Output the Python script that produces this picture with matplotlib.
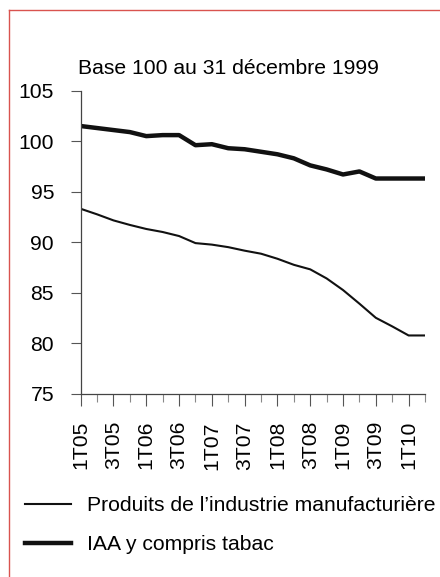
import matplotlib
matplotlib.use("Agg")
import matplotlib.pyplot as plt
from matplotlib.lines import Line2D
from matplotlib.ticker import MultipleLocator, FixedLocator

plt.rcParams['font.family'] = ['Liberation Sans', 'DejaVu Sans']

quarters = ["1T05", "2T05", "3T05", "4T05", "1T06", "2T06", "3T06", "4T06",
            "1T07", "2T07", "3T07", "4T07", "1T08", "2T08", "3T08", "4T08",
            "1T09", "2T09", "3T09", "4T09", "1T10", "2T10"]
manuf = [93.3, 92.75, 92.15, 91.7, 91.3, 91.0, 90.6, 89.9, 89.75, 89.5, 89.15,
         88.85, 88.35, 87.75, 87.3, 86.4, 85.25, 83.9, 82.5, 81.65, 80.75, 80.75]
iaa = [101.5, 101.3, 101.1, 100.9, 100.5, 100.6, 100.6, 99.6, 99.7, 99.3, 99.2,
       98.95, 98.7, 98.3, 97.6, 97.2, 96.7, 97.0, 96.3, 96.3, 96.3, 96.3]
series_names = ["Produits de l\u2019industrie manufacturi\u00e8re", "IAA y compris tabac"]
title = "Base 100 au 31 d\u00e9cembre 1999"

W, H = 440, 577
FS = 15.2
fig = plt.figure(figsize=(W / 100, H / 100), dpi=100)
fig.patch.set_facecolor("white")

# red frame (only left and top edges visible in the image)
red = "#d9534f"
fig.add_artist(Line2D([8.5 / W, 8.5 / W], [0, 1 - 9.5 / H], transform=fig.transFigure,
                      color=red, linewidth=1.0))
fig.add_artist(Line2D([8.5 / W, 1], [1 - 9.5 / H, 1 - 9.5 / H], transform=fig.transFigure,
                      color=red, linewidth=1.0))

ax = fig.add_axes([80.7 / W, 1 - 393.5 / H, (425 - 80.7) / W, (393.5 - 90.7) / H])
x = list(range(len(quarters)))
l1, = ax.plot(x, manuf, color="#111111", linewidth=1.5, solid_joinstyle="round")
l2, = ax.plot(x, iaa, color="#111111", linewidth=3.2, solid_joinstyle="round")

ax.set_xlim(0, len(quarters) - 1)
ax.set_ylim(75, 105)
ax.yaxis.set_major_locator(MultipleLocator(5))
ax.xaxis.set_major_locator(FixedLocator(x[::2]))
ax.xaxis.set_minor_locator(FixedLocator(x[1::2]))
ax.set_xticklabels(quarters[::2], rotation=90, fontsize=FS)
ax.tick_params(axis="y", labelsize=FS, length=7.2, width=0.8, color="#555555", pad=12)
ax.tick_params(axis="x", which="major", length=8.3, width=0.8, color="#555555", pad=11.5)
ax.tick_params(axis="x", which="minor", length=6, width=0.8, color="#888888")
for s in ["top", "right"]:
    ax.spines[s].set_visible(False)
for s in ["left", "bottom"]:
    ax.spines[s].set_color("#444444")
    ax.spines[s].set_linewidth(0.9)

fig.text(78 / W, 1 - 74 / H, title, fontsize=FS, va="baseline", ha="left")

fig.legend([l1, l2], series_names, loc="upper left", bbox_to_anchor=(25 / W, 1 - 496 / H),
           frameon=False, fontsize=FS, handlelength=2.2, handletextpad=0.75,
           labelspacing=0.95, borderpad=0, borderaxespad=0)

fig.savefig("out.png", dpi=100)
